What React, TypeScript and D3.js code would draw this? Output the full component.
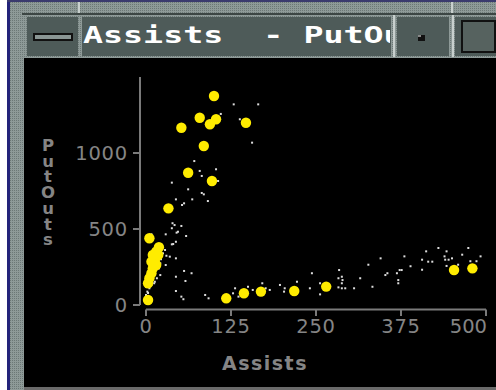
import React from "react";
import * as d3 from "d3";

// ---- data (Assists vs PutOuts) ----
const smallAssists = [129,165,110,138,156,71,79,103,82,106,38,62,82,85,44,68,91,56,53,39,42,52,38,47,45,59,29,8,44,40,38,28,25,30,35,44,22,21,29,19,56,67,44,21,16,13,58,8,12,44,52,55,87,92,1,3,0,5,2,0,1,6,9,3,3,1,128,131,136,150,157,171,176,182,197,204,203,222,241,244,256,256,283,284,288,289,288,283,288,293,306,315,327,333,345,352,355,369,373,376,371,371,380,389,406,406,412,415,421,430,439,442,440,445,450,442,459,465,474,477,486,492];
const smallPutOuts = [1320,1320,1257,1222,1068,947,882,893,849,816,805,761,737,728,695,695,684,669,658,538,526,520,505,482,476,454,465,465,416,401,399,362,340,324,318,307,301,274,263,241,224,209,186,197,176,153,158,132,143,92,55,38,66,44,164,143,120,110,88,66,44,184,217,143,79,120,77,110,55,120,99,143,110,99,132,110,88,153,110,209,143,70,176,230,186,164,143,116,110,110,110,176,265,120,307,197,209,209,230,230,164,143,320,255,298,232,353,285,285,375,320,353,298,298,307,257,265,331,375,288,288,320];

const bigAssists = [100,79,103,94,147,52,85,62,97,33,5,19,15,10,18,13,8,15,10,8,5,3,3,118,144,169,218,265,453,480];
const bigPutOuts = [1375,1232,1222,1189,1199,1166,1046,870,816,636,439,380,351,329,329,296,285,263,241,209,176,143,33,44,77,88,92,121,230,241];

const xTicks = [0, 125, 250, 375, 500];
const yTicks = [0, 500, 1000];
const yLabel = "PutOuts";
const titleText = "Assists  - PutOuts";

export default function App() {
  const x = d3.scaleLinear().domain([0, 500]).range([146, 486]);
  const y = d3.scaleLinear().domain([0, 1000]).range([305, 153]);
  const axisColor = "#7a7a7a";
  const labelColor = "#858585";
  const boxFill = "#4e5b59";

  return (
    <svg width={496} height={390} style={{ position: "absolute", left: 0, top: 0 }}>
      <defs>
        <pattern id="tex" width={2} height={2} patternUnits="userSpaceOnUse">
          <rect width={2} height={2} fill="#8e9a98" />
          <rect width={1} height={1} fill="#6c7876" />
        </pattern>
        <clipPath id="titleClip">
          <rect x={82} y={15} width={308} height={42} />
        </clipPath>
      </defs>
      <rect x={0} y={0} width={496} height={390} fill="#ffffff" />
      {/* window frame */}
      <rect x={7} y={0} width={489} height={390} fill="url(#tex)" />
      <rect x={7} y={0} width={3} height={390} fill="#23237a" />
      <rect x={7} y={0} width={489} height={2} fill="#3a3a6e" />
      <rect x={22} y={13} width={474} height={2} fill="#3c4644" />
      <rect x={78} y={2} width={2} height={11} fill="#c8d0ce" />
      <rect x={451} y={2} width={2} height={11} fill="#c8d0ce" />
      {/* title bar boxes */}
      <rect x={27} y={17} width={51} height={39} fill={boxFill} />
      <rect x={82} y={17} width={309} height={39} fill={boxFill} />
      <rect x={397} y={17} width={52} height={39} fill={boxFill} />
      <rect x={455} y={17} width={41} height={39} fill={boxFill} />
      <rect x={393} y={15} width={2} height={42} fill="#c8d0ce" />
      <rect x={452} y={15} width={2} height={42} fill="#c8d0ce" />
      {/* minimize-like bar */}
      <rect x={34} y={34} width={38} height={6} fill="#8a9694" stroke="#111" strokeWidth={2} />
      {/* dot button */}
      <rect x={418} y={35} width={7} height={6} fill="#111" />
      <rect x={418} y={35} width={3} height={2} fill="#888" />
      {/* square button */}
      <rect x={462} y={21} width={33} height={31} fill="#56625f" stroke="#111" strokeWidth={2} />
      {/* title text */}
      <g clipPath="url(#titleClip)">
        <text
          transform="translate(83,43) scale(1.48,1)"
          fontFamily="'DejaVu Sans Mono', monospace"
          fontWeight="bold"
          fontSize={22.5}
          fill="#ffffff"
          style={{ whiteSpace: "pre" }}
        >
          {titleText}
        </text>
      </g>
      {/* plot area */}
      <rect x={24} y={58} width={472} height={329} fill="#000000" />
      <rect x={24} y={387} width={472} height={3} fill="#6a6a6a" />

      {/* y axis */}
      <line x1={140} x2={140} y1={y(0)} y2={y(1500)} stroke={axisColor} strokeWidth={2} />
      {yTicks.map((t) => (
        <g key={"yt" + t}>
          <line x1={133} x2={140} y1={y(t)} y2={y(t)} stroke={axisColor} strokeWidth={2} />
          <text
            x={128}
            y={y(t) + 7}
            textAnchor="end"
            fontFamily="'DejaVu Sans', sans-serif"
            fontSize={19.5}
            letterSpacing={0.8}
            fill={labelColor}
          >
            {t}
          </text>
        </g>
      ))}
      {/* x axis */}
      <line x1={x(0)} x2={x(500)} y1={309.5} y2={309.5} stroke={axisColor} strokeWidth={2} />
      {xTicks.map((t, i) => {
        const last = i === xTicks.length - 1;
        return (
          <g key={"xt" + t}>
            <line x1={x(t)} x2={x(t)} y1={309.5} y2={316} stroke={axisColor} strokeWidth={2} />
            <text
              x={last ? x(t) + 1 : x(t)}
              y={333}
              textAnchor={last ? "end" : "middle"}
              fontFamily="'DejaVu Sans', sans-serif"
              fontSize={19.5}
              letterSpacing={last ? 0 : 0.8}
              fill={labelColor}
            >
              {t}
            </text>
          </g>
        );
      })}
      {/* axis titles */}
      <text
        x={265}
        y={370}
        textAnchor="middle"
        fontFamily="'DejaVu Sans', sans-serif"
        fontWeight="bold"
        fontSize={19}
        letterSpacing={1.5}
        fill={labelColor}
      >
        Assists
      </text>
      <text
        x={48}
        y={136}
        fontFamily="'DejaVu Sans', sans-serif"
        fontWeight="bold"
        fontSize={16.5}
        letterSpacing={-3.3}
        fill={labelColor}
        style={{ writingMode: "vertical-rl", textOrientation: "upright" } as any}
      >
        {yLabel}
      </text>

      {/* small white points */}
      {smallAssists.map((a, i) => (
        <rect
          key={"s" + i}
          x={x(a) - 1}
          y={y(smallPutOuts[i]) - 1}
          width={2}
          height={2}
          fill="#dcdcdc"
        />
      ))}
      {/* big yellow points */}
      {bigAssists.map((a, i) => (
        <circle key={"b" + i} cx={x(a)} cy={y(bigPutOuts[i])} r={5.2} fill="#ffec00" />
      ))}
    </svg>
  );
}
